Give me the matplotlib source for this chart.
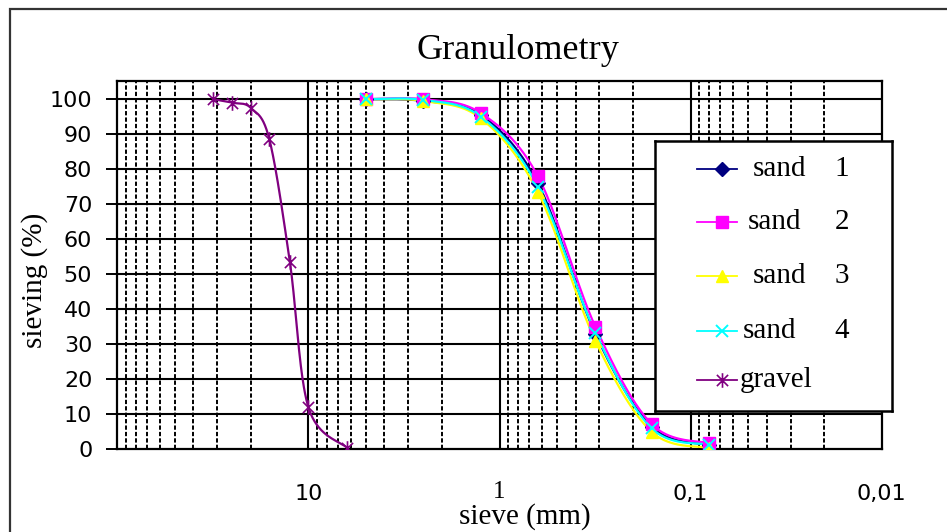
import numpy as np
import matplotlib.pyplot as plt
from matplotlib.path import Path
from matplotlib.patches import Rectangle
from matplotlib.ticker import FixedLocator, NullFormatter

# Sieve openings (mm) and passing fractions (%)
sand_sieves = [5, 2.5, 1.25, 0.63, 0.315, 0.16, 0.08]
sand_1 = [100, 99.5, 95.5, 76, 33, 6.5, 1.2]
sand_2 = [100, 100, 96, 78, 35, 7.2, 1.7]
sand_3 = [100, 99.5, 94.5, 73.5, 31, 5, 0.4]
sand_4 = [100, 99.8, 95, 75, 33.3, 6, 1.3]

gravel_sieves = [31.5, 25, 20, 16, 12.5, 10, 6.3]
gravel = [100, 99, 97.5, 88.5, 53.5, 12, 0.5]

series_names = ["sand", "sand", "sand", "sand", "gravel"]
series_numbers = ["1", "2", "3", "4", ""]
x_tick_values = [10, 1, 0.1, 0.01]
x_tick_labels = ["10", "1", "0,1", "0,01"]
y_ticks = list(range(0, 101, 10))

SERIF = "Liberation Serif"


def smooth(x, y, n=40):
    """Catmull-Rom curve through the points, built in log10(x) space."""
    lx = np.log10(np.asarray(x, float))
    y = np.asarray(y, float)
    px = np.concatenate([[lx[0]], lx, [lx[-1]]])
    py = np.concatenate([[y[0]], y, [y[-1]]])
    t = np.linspace(0, 1, n)[:, None]
    xs, ys = [], []
    for i in range(1, len(px) - 2):
        pts_x = px[i - 1:i + 3]
        pts_y = py[i - 1:i + 3]
        def cr(p):
            return 0.5 * ((2 * p[1]) + (-p[0] + p[2]) * t
                          + (2 * p[0] - 5 * p[1] + 4 * p[2] - p[3]) * t ** 2
                          + (-p[0] + 3 * p[1] - 3 * p[2] + p[3]) * t ** 3)
        xs.append(cr(pts_x).ravel())
        ys.append(cr(pts_y).ravel())
    return 10 ** np.concatenate(xs), np.concatenate(ys)


# Excel-style star: an "x" with a vertical bar through it
star = Path([(-1, -1), (1, 1), (-1, 1), (1, -1), (0, -1.3), (0, 1.3)],
            [Path.MOVETO, Path.LINETO, Path.MOVETO, Path.LINETO,
             Path.MOVETO, Path.LINETO])

fig = plt.figure(figsize=(9.47, 5.32), dpi=100)
ax = fig.add_axes([117.3 / 947, 1 - 449.3 / 532, 764.4 / 947, 368.3 / 532])

# outer chart frame
fig.patches.append(Rectangle((10 / 947, -0.1), 1.1, 1 - 9 / 532 + 0.1,
                             transform=fig.transFigure, fill=False,
                             edgecolor="#333333", linewidth=1.6, zorder=0))

ax.set_xscale("log")
ax.set_xlim(100, 0.01)
ax.set_ylim(0, 105.2)

# grid: solid decades, dashed intermediate sieves, solid horizontal lines
minor = [m * 10.0 ** e for e in range(-2, 2) for m in range(2, 10)]
for v in minor:
    ax.axvline(v, color="black", linewidth=1.4, linestyle=(0, (2.2, 1.1)), zorder=1)
for v in [10, 1, 0.1]:
    ax.axvline(v, color="black", linewidth=1.5, zorder=1)
for v in y_ticks[1:]:
    ax.axhline(v, color="black", linewidth=1.5, zorder=1)

styles = [
    dict(color="#000080", marker="D", markersize=7),
    dict(color="#FF00FF", marker="s", markersize=8.5),
    dict(color="#FFFF00", marker="^", markersize=9),
    dict(color="#00FFFF", marker="x", markersize=8, markeredgewidth=1.4),
    dict(color="#800080", marker=star, markersize=10.5, markeredgewidth=1.2),
]
data = [(sand_sieves, sand_1), (sand_sieves, sand_2), (sand_sieves, sand_3),
        (sand_sieves, sand_4), (gravel_sieves, gravel)]

for (xs, ys), st in zip(data, styles):
    sx, sy = smooth(xs, ys)
    ax.plot(sx, sy, color=st["color"], linewidth=1.6, zorder=3)
    ax.plot(xs, ys, linestyle="none", zorder=4, **st)

ax.xaxis.set_major_locator(FixedLocator(x_tick_values))
ax.set_xticklabels(x_tick_labels)
ax.xaxis.set_minor_formatter(NullFormatter())
ax.tick_params(axis="x", which="both", length=0, pad=25, labelsize=16)
for lbl in ax.get_xticklabels():
    if lbl.get_text() == "1":
        lbl.set_family(SERIF)
        lbl.set_fontsize(18)
        lbl.set_y(lbl.get_position()[1] + 0.008)
ax.set_yticks(y_ticks)
ax.tick_params(axis="y", length=8, width=1.4, pad=10, labelsize=16)

for s in ax.spines.values():
    s.set_linewidth(1.6)

ax.set_xlabel("sieve (mm)", family=SERIF, fontsize=21)
ax.xaxis.set_label_coords(0.533, -0.182)
ax.xaxis.label.set_va("center")
ax.set_ylabel("sieving (%)", family=SERIF, fontsize=21)
ax.yaxis.set_label_coords(-0.108, 0.46)
ax.yaxis.label.set_va("center")

ax.text(0.524, 1.084, "Granulometry", transform=ax.transAxes, ha="center",
        va="center", family=SERIF, fontsize=26)

# legend box, laid out in its own pixel-sized axes
lax = fig.add_axes([655 / 947, 1 - 411 / 532, 237 / 947, 270 / 532], zorder=10)
lax.set_xlim(0, 237)
lax.set_ylim(270, 0)
lax.set_xticks([])
lax.set_yticks([])
for s in lax.spines.values():
    s.set_linewidth(1.8)
    s.set_color("black")
entry_y = [28, 81, 135, 190, 239]
name_x = [98, 93, 98, 88, 85]
for yy, nx, st, name, num in zip(entry_y, name_x, styles, series_names, series_numbers):
    lax.plot([42, 82], [yy, yy], color=st["color"], linewidth=1.3)
    lax.plot([67], [yy], linestyle="none", **st)
    lax.text(nx, yy, name, ha="left", va="center", family=SERIF, fontsize=21)
    if num:
        lax.text(187, yy, num, ha="center", va="center", family=SERIF, fontsize=21)

fig.savefig("out.png", dpi=100)
